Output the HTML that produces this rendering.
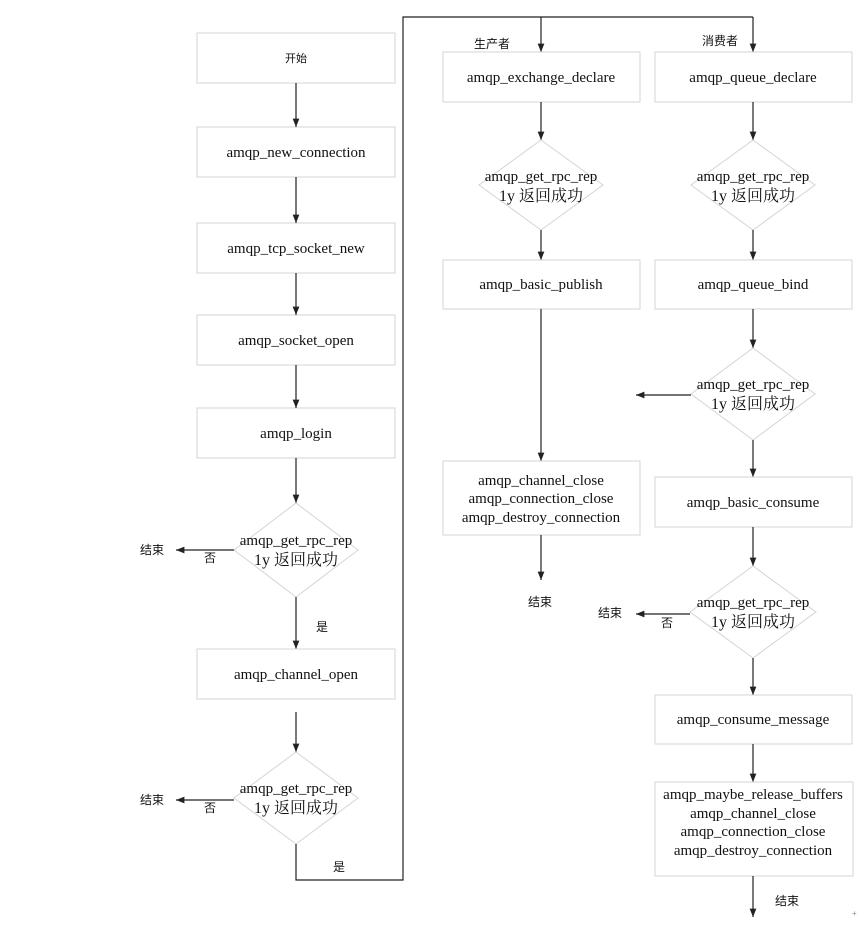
<!DOCTYPE html>
<html><head><meta charset="utf-8"><style>
html,body{margin:0;padding:0;background:#fff;}
svg{display:block;}
.b{fill:#fff;stroke:#d4d4d4;stroke-width:1;}
.l{stroke:#222;stroke-width:1.2;fill:none;}
.t{font-family:"Liberation Serif","Noto Serif CJK SC",serif;font-size:15px;fill:#111;text-anchor:middle;}
.z{font-size:16px;}
.c{font-family:"Liberation Sans","Noto Sans CJK SC",sans-serif;font-size:12px;fill:#111;}
</style></head><body>
<svg width="859" height="930" viewBox="0 0 859 930" xmlns="http://www.w3.org/2000/svg">
<defs><marker id="a" viewBox="0 0 10 10" refX="10" refY="5" markerWidth="7" markerHeight="7" orient="auto"><path d="M0,1 L10,5 L0,9 z" fill="#222"/></marker></defs>

<rect class="b" x="197" y="33" width="198" height="50"/>
<text class="c" x="296" y="62" text-anchor="middle" style="font-size:11px">开始</text>
<rect class="b" x="197" y="127" width="198" height="50"/><text class="t" x="296" y="157">amqp_new_connection</text>
<rect class="b" x="197" y="223" width="198" height="50"/><text class="t" x="296" y="253">amqp_tcp_socket_new</text>
<rect class="b" x="197" y="315" width="198" height="50"/><text class="t" x="296" y="345">amqp_socket_open</text>
<rect class="b" x="197" y="408" width="198" height="50"/><text class="t" x="296" y="438">amqp_login</text>
<line class="l" x1="296" y1="83" x2="296" y2="127" marker-end="url(#a)"/>
<line class="l" x1="296" y1="177" x2="296" y2="223" marker-end="url(#a)"/>
<line class="l" x1="296" y1="273" x2="296" y2="315" marker-end="url(#a)"/>
<line class="l" x1="296" y1="365" x2="296" y2="408" marker-end="url(#a)"/>
<line class="l" x1="296" y1="458" x2="296" y2="503" marker-end="url(#a)"/>
<polygon class="b" points="296,503 358,550 296,597 234,550"/>
<text class="t" x="296" y="545">amqp_get_rpc_rep</text><text class="t z" x="296" y="565">1y 返回成功</text>
<line class="l" x1="234" y1="550" x2="176" y2="550" marker-end="url(#a)"/>
<text class="c" x="140" y="554">结束</text><text class="c" x="204" y="562">否</text>
<line class="l" x1="296" y1="597" x2="296" y2="649" marker-end="url(#a)"/>
<text class="c" x="316" y="631">是</text>
<rect class="b" x="197" y="649" width="198" height="50"/><text class="t" x="296" y="679">amqp_channel_open</text>
<line class="l" x1="296" y1="712" x2="296" y2="752" marker-end="url(#a)"/>
<polygon class="b" points="296,752 358,798 296,844 234,798"/>
<text class="t" x="296" y="793">amqp_get_rpc_rep</text><text class="t z" x="296" y="813">1y 返回成功</text>
<line class="l" x1="234" y1="800" x2="176" y2="800" marker-end="url(#a)"/>
<text class="c" x="140" y="804">结束</text><text class="c" x="204" y="812">否</text>
<polyline class="l" points="296,844 296,880 403,880 403,17 753,17"/>
<text class="c" x="333" y="871">是</text>
<line class="l" x1="541" y1="17" x2="541" y2="52" marker-end="url(#a)"/>
<line class="l" x1="753" y1="17" x2="753" y2="52" marker-end="url(#a)"/>

<text class="c" x="474" y="48">生产者</text>
<rect class="b" x="443" y="52" width="197" height="50"/><text class="t" x="541" y="82">amqp_exchange_declare</text>
<line class="l" x1="541" y1="102" x2="541" y2="140" marker-end="url(#a)"/>
<polygon class="b" points="541,140 603,185 541,230 479,185"/>
<text class="t" x="541" y="181">amqp_get_rpc_rep</text><text class="t z" x="541" y="201">1y 返回成功</text>
<line class="l" x1="541" y1="230" x2="541" y2="260" marker-end="url(#a)"/>
<rect class="b" x="443" y="260" width="197" height="49"/><text class="t" x="541" y="289">amqp_basic_publish</text>
<line class="l" x1="541" y1="309" x2="541" y2="461" marker-end="url(#a)"/>
<rect class="b" x="443" y="461" width="197" height="74"/>
<text class="t" x="541" y="485">amqp_channel_close</text>
<text class="t" x="541" y="503">amqp_connection_close</text>
<text class="t" x="541" y="522">amqp_destroy_connection</text>
<line class="l" x1="541" y1="535" x2="541" y2="580" marker-end="url(#a)"/>
<text class="c" x="528" y="606">结束</text>

<text class="c" x="702" y="45">消费者</text>
<rect class="b" x="655" y="52" width="197" height="50"/><text class="t" x="753" y="82">amqp_queue_declare</text>
<line class="l" x1="753" y1="102" x2="753" y2="140" marker-end="url(#a)"/>
<polygon class="b" points="753,140 815,185 753,230 691,185"/>
<text class="t" x="753" y="181">amqp_get_rpc_rep</text><text class="t z" x="753" y="201">1y 返回成功</text>
<line class="l" x1="753" y1="230" x2="753" y2="260" marker-end="url(#a)"/>
<rect class="b" x="655" y="260" width="197" height="49"/><text class="t" x="753" y="289">amqp_queue_bind</text>
<line class="l" x1="753" y1="309" x2="753" y2="348" marker-end="url(#a)"/>
<polygon class="b" points="753,348 815,394 753,440 691,394"/>
<text class="t" x="753" y="389">amqp_get_rpc_rep</text><text class="t z" x="753" y="409">1y 返回成功</text>
<line class="l" x1="691" y1="395" x2="636" y2="395" marker-end="url(#a)"/>
<line class="l" x1="753" y1="440" x2="753" y2="477" marker-end="url(#a)"/>
<rect class="b" x="655" y="477" width="197" height="50"/><text class="t" x="753" y="507">amqp_basic_consume</text>
<line class="l" x1="753" y1="527" x2="753" y2="566" marker-end="url(#a)"/>
<polygon class="b" points="753,566 816,612 753,658 690,612"/>
<text class="t" x="753" y="607">amqp_get_rpc_rep</text><text class="t z" x="753" y="627">1y 返回成功</text>
<line class="l" x1="690" y1="614" x2="636" y2="614" marker-end="url(#a)"/>
<text class="c" x="598" y="617">结束</text><text class="c" x="661" y="627">否</text>
<line class="l" x1="753" y1="658" x2="753" y2="695" marker-end="url(#a)"/>
<rect class="b" x="655" y="695" width="197" height="49"/><text class="t" x="753" y="724">amqp_consume_message</text>
<line class="l" x1="753" y1="744" x2="753" y2="782" marker-end="url(#a)"/>
<rect class="b" x="655" y="782" width="198" height="94"/>
<text class="t" x="753" y="799">amqp_maybe_release_buffers</text>
<text class="t" x="753" y="818">amqp_channel_close</text>
<text class="t" x="753" y="836">amqp_connection_close</text>
<text class="t" x="753" y="855">amqp_destroy_connection</text>
<line class="l" x1="753" y1="876" x2="753" y2="917" marker-end="url(#a)"/>
<text class="c" x="775" y="905">结束</text>
<text class="c" x="852" y="916" style="font-size:8px;fill:#888">+</text>
</svg>
</body></html>
